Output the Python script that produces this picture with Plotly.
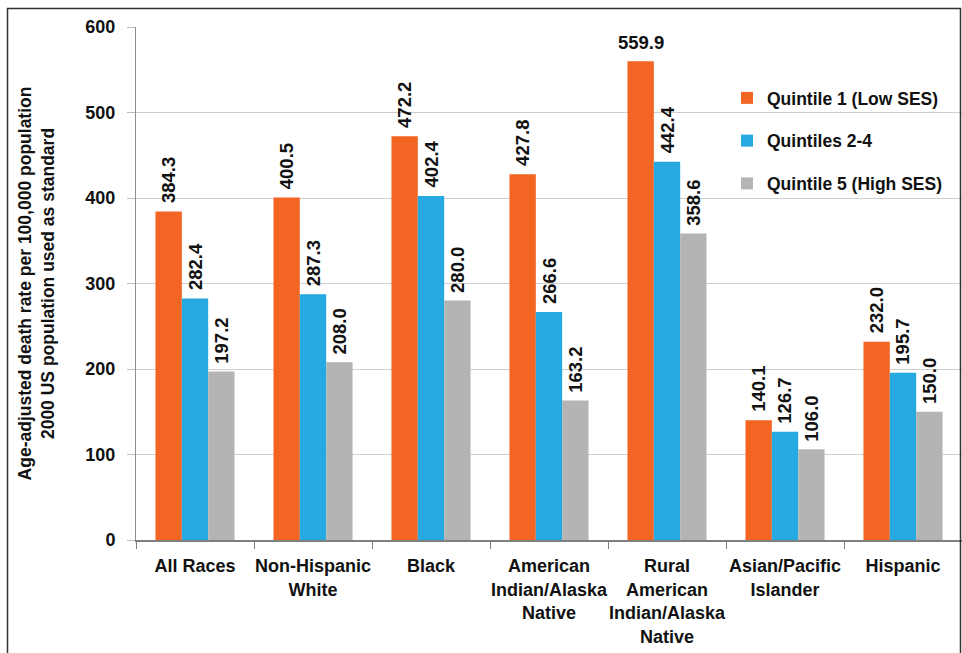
import plotly.graph_objects as go

# Race / ethnicity groups along the x axis
categories = [
    "All Races",
    "Non-Hispanic<br>White",
    "Black",
    "American<br>Indian/Alaska<br>Native",
    "Rural<br>American<br>Indian/Alaska<br>Native",
    "Asian/Pacific<br>Islander",
    "Hispanic",
]

# Age-adjusted death rates per 100,000 by SES quintile
quintile_1 = [384.3, 400.5, 472.2, 427.8, 559.9, 140.1, 232.0]
quintiles_2_4 = [282.4, 287.3, 402.4, 266.6, 442.4, 126.7, 195.7]
quintile_5 = [197.2, 208.0, 280.0, 163.2, 358.6, 106.0, 150.0]

series_names = ["Quintile 1 (Low SES)", "Quintiles 2-4", "Quintile 5 (High SES)"]
series_values = [quintile_1, quintiles_2_4, quintile_5]
series_colors = ["#F26522", "#25A9E0", "#B4B4B4"]

y_ticks = [0, 100, 200, 300, 400, 500, 600]

FONT = "Liberation Sans, Arial, sans-serif"
BARGAP = 0.33
TOP_LIMIT = 600
# values this close to the top get a horizontal label instead of a rotated one
FLAT_LABEL_ABOVE = 500
LABEL_FONT = dict(family=FONT, size=18.5, color="#111111", weight="bold")

fig = go.Figure()
annotations = []
n_series = len(series_values)
bar_w = (1 - BARGAP) / n_series

for s, (name, vals, color) in enumerate(zip(series_names, series_values, series_colors)):
    fig.add_trace(go.Bar(
        name=name,
        x=categories,
        y=vals,
        marker=dict(color=color, line=dict(width=0)),
        legendgroup=name,
        hoverinfo="y",
    ))
    # value labels above each bar (category serial number + bar offset)
    for i, v in enumerate(vals):
        flat = v > FLAT_LABEL_ABOVE
        annotations.append(dict(
            x=i + (s - (n_series - 1) / 2) * bar_w,
            y=v,
            xref="x", yref="y",
            text=f"{v:.1f}",
            showarrow=False,
            textangle=0 if flat else -90,
            xanchor="center",
            yanchor="bottom",
            yshift=6,
            font=LABEL_FONT,
        ))

L, R, T, B = 136, 0, 27, 113
W, H = 962, 653
plot_w = W - L - R
plot_h = H - T - B


def px_x(p):
    return (p - L) / plot_w


def px_y(p):
    return (H - B - p) / plot_h


fig.update_layout(
    width=W, height=H,
    margin=dict(l=L, r=R, t=T, b=B, pad=0, autoexpand=False),
    paper_bgcolor="white",
    plot_bgcolor="white",
    barmode="group",
    bargap=BARGAP,
    bargroupgap=0,
    font=dict(family=FONT, color="#111111"),
    showlegend=True,
    legend=dict(
        x=px_x(727), y=px_y(80),
        xanchor="left", yanchor="top",
        bgcolor="rgba(0,0,0,0)",
        borderwidth=0,
        traceorder="grouped",
        tracegroupgap=17,
        font=dict(family=FONT, size=17.5, color="#111111", weight="bold"),
    ),
    xaxis=dict(
        type="category",
        categoryorder="array",
        categoryarray=categories,
        range=[-0.5, len(categories) - 0.5],
        automargin=False,
        tickangle=0,
        showgrid=False,
        showline=True,
        linecolor="#7F7F7F",
        linewidth=1.5,
        ticks="outside",
        tickson="boundaries",
        ticklen=7,
        tickcolor="#7F7F7F",
        tickfont=dict(family=FONT, size=18, color="#111111", weight="bold"),
        ticklabelstandoff=9,
        zeroline=False,
    ),
    yaxis=dict(
        range=[0, TOP_LIMIT],
        automargin=False,
        tickmode="array",
        tickvals=y_ticks,
        ticktext=[str(t) for t in y_ticks],
        showgrid=True,
        gridcolor="#CFCFCF",
        gridwidth=1,
        showline=True,
        linecolor="#8C8C8C",
        linewidth=1,
        ticks="outside",
        ticklen=8,
        tickcolor="#BDBDBD",
        ticklabelstandoff=8,
        tickfont=dict(family=FONT, size=18, color="#111111", weight="bold"),
        zeroline=False,
        title=dict(
            text="Age-adjusted death rate per 100,000 population<br>2000 US population used as standard",
            font=dict(family=FONT, size=17.5, color="#111111", weight="bold"),
            standoff=26,
        ),
    ),
    annotations=annotations,
    shapes=[
        # outer frame around the figure
        dict(type="rect", xref="paper", yref="paper",
             x0=px_x(7.5), x1=px_x(960.5), y0=px_y(670), y1=px_y(8.5),
             line=dict(color="#333333", width=1.5), fillcolor="rgba(0,0,0,0)",
             layer="above"),
    ],
)

fig.write_html("out.html")
